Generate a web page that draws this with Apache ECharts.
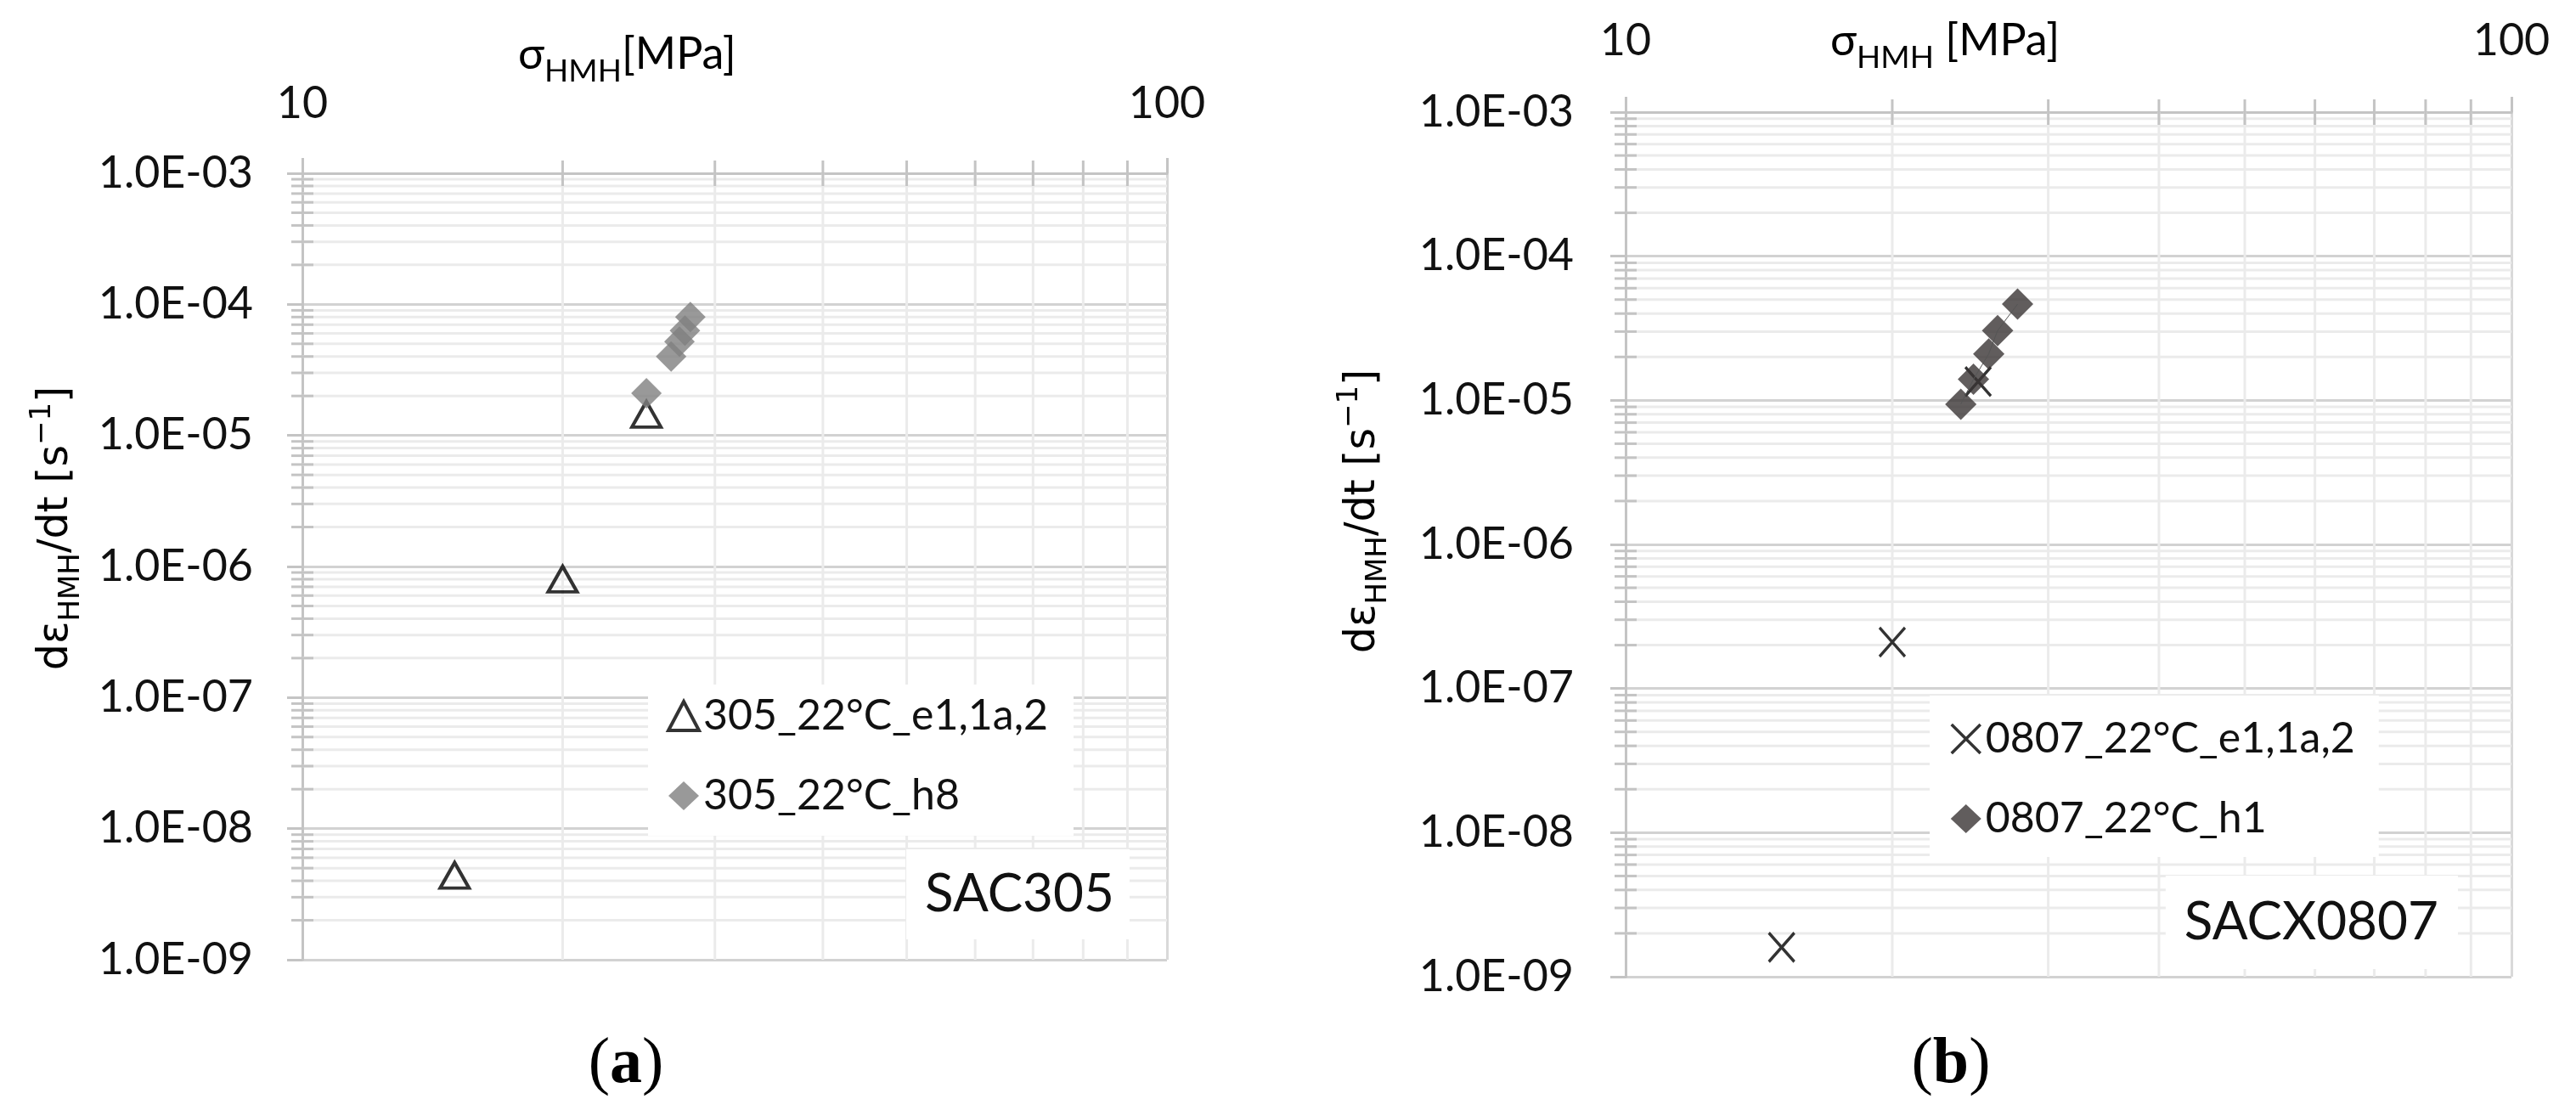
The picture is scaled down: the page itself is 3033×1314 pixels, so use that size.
<!DOCTYPE html>
<html>
<head>
<meta charset="utf-8">
<title>creep rate vs equivalent stress</title>
<script src="https://cdn.jsdelivr.net/npm/echarts@6.0.0/dist/echarts.min.js"></script>
<style>
  html, body { margin: 0; padding: 0; background: #fff; }
  #chart { width: 3033px; height: 1314px; }
</style>
</head>
<body>
<div id="chart"></div>
<script>
// values: stress [MPa] -> strain rate [1/s]
var stressE305 = [15, 20, 25];
var rateE305 = [4.4e-9, 8.0e-7, 1.45e-5];
var stressH305 = [25, 26.7, 27.3, 27.7, 28.1];
var rateH305 = [2.1e-5, 4.0e-5, 5.2e-5, 6.3e-5, 8.0e-5];

var stressE0807 = [15, 20, 25];
var rateE0807 = [1.6e-9, 2.1e-7, 1.35e-5];
var stressH0807 = [23.9, 24.7, 25.7, 26.3, 27.7];
var rateH0807 = [9.4e-6, 1.4e-5, 2.1e-5, 3.05e-5, 4.65e-5];

var namesA = ['305_22°C_e1,1a,2', '305_22°C_h8'];
var namesB = ['0807_22°C_e1,1a,2', '0807_22°C_h1'];

var yTickLabels = ['1.0E-09', '1.0E-08', '1.0E-07', '1.0E-06', '1.0E-05', '1.0E-04', '1.0E-03'];
var yDecades = [1e-9, 1e-8, 1e-7, 1e-6, 1e-5, 1e-4];
var minorSteps = [2, 3, 4, 5, 6, 7, 8, 9];
var xMinorVals = [20, 30, 40, 50, 60, 70, 80, 90];

var yMinorVals = [];
yDecades.forEach(function (d) {
  minorSteps.forEach(function (k) { yMinorVals.push(k * d); });
});

function pairs(xs, ys) {
  return xs.map(function (x, i) { return [x, ys[i]]; });
}

var AXIS_GREY = '#c4c4c4';
var TICK_FONT = 'Lato';
var crossPath = 'path://M0,0L10,10M10,0L0,10';

function xAxisOf(gi, margin) {
  return {
    type: 'log', logBase: 10, gridIndex: gi, min: 10, max: 100, position: 'top',
    axisLine: { show: true, onZero: false, lineStyle: { color: AXIS_GREY, width: 3 } },
    axisTick: { show: true, length: 18, lineStyle: { color: AXIS_GREY, width: 3 } },
    splitLine: { show: true, lineStyle: { color: '#d9d9d9', width: 3 } },
    axisLabel: { fontFamily: TICK_FONT, fontSize: 52, color: '#111', margin: margin }
  };
}

function yAxisOf(gi, margin) {
  return {
    type: 'log', logBase: 10, gridIndex: gi, min: 1e-9, max: 1e-3, splitNumber: 6,
    axisLine: { show: true, onZero: false, lineStyle: { color: AXIS_GREY, width: 3 } },
    axisTick: { show: true, length: 18, lineStyle: { color: AXIS_GREY, width: 3 } },
    splitLine: { show: true, lineStyle: { color: '#d2d2d2', width: 3 } },
    axisLabel: {
      fontFamily: TICK_FONT, fontSize: 52, color: '#111', margin: margin,
      formatter: function (v) { return yTickLabels[Math.round(Math.log10(v)) + 9]; }
    }
  };
}

// minor log grid lines (2..9 of each decade) with crossing ticks on the axis
function minorHoriz(gi) {
  return {
    type: 'custom', xAxisIndex: gi, yAxisIndex: gi, silent: true, clip: false, z: 1,
    data: yMinorVals.map(function (v) { return [10, v]; }),
    renderItem: function (params, api) {
      var p0 = api.coord([10, api.value(1)]);
      var p1 = api.coord([100, api.value(1)]);
      return {
        type: 'group',
        children: [
          { type: 'line', shape: { x1: p0[0], y1: p0[1], x2: p1[0], y2: p1[1] },
            style: { stroke: '#ebebeb', lineWidth: 3 } },
          { type: 'line', shape: { x1: p0[0] - 13, y1: p0[1], x2: p0[0] + 13, y2: p0[1] },
            style: { stroke: AXIS_GREY, lineWidth: 3 } }
        ]
      };
    }
  };
}

function minorVert(gi) {
  return {
    type: 'custom', xAxisIndex: gi, yAxisIndex: gi, silent: true, clip: false, z: 1,
    data: xMinorVals.map(function (v) { return [v, 1e-3]; }),
    renderItem: function (params, api) {
      var p0 = api.coord([api.value(0), 1e-3]);
      var p1 = api.coord([api.value(0), 1e-9]);
      return {
        type: 'group',
        children: [
          { type: 'line', shape: { x1: p0[0], y1: p0[1], x2: p1[0], y2: p1[1] },
            style: { stroke: '#ebebeb', lineWidth: 3 } },
          { type: 'line', shape: { x1: p0[0], y1: p0[1] - 15, x2: p0[0], y2: p0[1] + 15 },
            style: { stroke: AXIS_GREY, lineWidth: 3 } }
        ]
      };
    }
  };
}

var xTitleRich = {
  m: { fontFamily: 'Lato, "Open Sans", "DejaVu Sans"', fontSize: 52, color: '#111' },
  s: { fontFamily: 'Lato, "Open Sans"', fontSize: 37, color: '#111', padding: [40, 0, 0, 0] }
};
var yTitleRich = {
  m: { fontFamily: '"DejaVu Sans"', fontSize: 49, color: '#111' },
  s: { fontFamily: '"DejaVu Sans"', fontSize: 34, color: '#111', padding: [36, 0, 0, 0] },
  p: { fontFamily: '"DejaVu Sans"', fontSize: 34, color: '#111', padding: [0, 0, 32, 0] }
};
var panelRich = {
  p: { fontFamily: '"Liberation Serif"', fontSize: 76, color: '#111' },
  b: { fontFamily: '"Liberation Serif"', fontSize: 76, fontWeight: 'bold', color: '#111' }
};

function legendOf(names, icons, left, top, pad) {
  return {
    orient: 'vertical', left: left, top: top, padding: pad,
    itemGap: 44, itemWidth: 36, itemHeight: 34,
    backgroundColor: '#fff',
    textStyle: { fontFamily: TICK_FONT, fontSize: 50, color: '#111' },
    data: names.map(function (n, i) { return Object.assign({ name: n }, icons[i]); })
  };
}

var chart = echarts.init(document.getElementById('chart'), null, { renderer: 'canvas' });

chart.setOption({
  animation: false,
  backgroundColor: '#fff',
  grid: [
    { left: 356, top: 204, width: 1018, height: 926, outerBoundsMode: 'none' },
    { left: 1914, top: 132, width: 1043, height: 1018, outerBoundsMode: 'none' }
  ],
  xAxis: [xAxisOf(0, 56), xAxisOf(1, 58)],
  yAxis: [yAxisOf(0, 58), yAxisOf(1, 61)],
  legend: [
    legendOf(namesA, [
      { icon: 'triangle', itemStyle: { color: 'transparent', borderColor: '#000', borderWidth: 4 } },
      { icon: 'diamond', itemStyle: { color: '#808080' } }
    ], 763, 806, [12, 30, 22, 22]),
    legendOf(namesB, [
      { icon: crossPath, itemStyle: { color: 'transparent', borderColor: '#000', borderWidth: 3.5 } },
      { icon: 'diamond', itemStyle: { color: '#3a3435' } }
    ], 2272, 819, [26, 28, 20, 24])
  ],
  series: [
    minorHoriz(0), minorVert(0), minorHoriz(1), minorVert(1),
    {
      name: namesA[0], type: 'scatter', xAxisIndex: 0, yAxisIndex: 0, z: 3,
      symbol: 'triangle', symbolSize: [34, 30],
      itemStyle: { color: 'transparent', borderColor: '#000', borderWidth: 4 },
      data: pairs(stressE305, rateE305)
    },
    {
      name: namesA[1], type: 'scatter', xAxisIndex: 0, yAxisIndex: 0, z: 4,
      symbol: 'diamond', symbolSize: 36,
      itemStyle: { color: '#808080' },
      data: pairs(stressH305, rateH305)
    },
    {
      name: namesB[0], type: 'scatter', xAxisIndex: 1, yAxisIndex: 1, z: 3,
      symbol: crossPath, symbolSize: [30, 34],
      itemStyle: { color: 'transparent', borderColor: '#000', borderWidth: 3.5 },
      data: pairs(stressE0807, rateE0807)
    },
    {
      name: namesB[1], type: 'scatter', xAxisIndex: 1, yAxisIndex: 1, z: 4,
      symbol: 'diamond', symbolSize: 37,
      itemStyle: { color: '#3a3435' },
      data: pairs(stressH0807, rateH0807)
    },
    {
      type: 'line', xAxisIndex: 1, yAxisIndex: 1, z: 5, silent: true,
      symbol: 'none', lineStyle: { color: '#555', width: 1 },
      data: pairs(stressH0807, rateH0807)
    }
  ],
  graphic: [
    { type: 'text', x: 610, y: 64, silent: true,
      style: { text: '{m|σ}{s|HMH}{m|[MPa]}', rich: xTitleRich, align: 'left', verticalAlign: 'middle' } },
    { type: 'text', x: 2155, y: 48, silent: true,
      style: { text: '{m|σ}{s|HMH}{m| [MPa]}', rich: xTitleRich, align: 'left', verticalAlign: 'middle' } },
    { type: 'text', x: 66, y: 622, rotation: Math.PI / 2, silent: true,
      style: { text: '{m|dε}{s|HMH}{m|/dt [s}{p|−1}{m|]}', rich: yTitleRich, align: 'center', verticalAlign: 'middle' } },
    { type: 'text', x: 1605, y: 602, rotation: Math.PI / 2, silent: true,
      style: { text: '{m|dε}{s|HMH}{m|/dt [s}{p|−1}{m|]}', rich: yTitleRich, align: 'center', verticalAlign: 'middle' } },
    { type: 'text', x: 1330, y: 1053, z: 10, silent: true,
      style: { text: 'SAC305', fontFamily: TICK_FONT, fontSize: 62, fill: '#111',
        align: 'right', verticalAlign: 'middle', backgroundColor: '#fff', padding: [22, 18, 22, 22] } },
    { type: 'text', x: 2894, y: 1086, z: 10, silent: true,
      style: { text: 'SACX0807', fontFamily: TICK_FONT, fontSize: 62, fill: '#111',
        align: 'right', verticalAlign: 'middle', backgroundColor: '#fff', padding: [24, 23, 24, 22] } },
    { type: 'text', x: 737, y: 1254, silent: true,
      style: { text: '{p|(}{b|a}{p|)}', rich: panelRich, align: 'center', verticalAlign: 'middle' } },
    { type: 'text', x: 2297, y: 1254, silent: true,
      style: { text: '{p|(}{b|b}{p|)}', rich: panelRich, align: 'center', verticalAlign: 'middle' } }
  ]
});
</script>
</body>
</html>
